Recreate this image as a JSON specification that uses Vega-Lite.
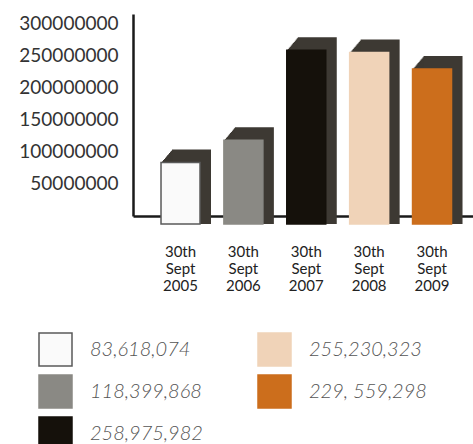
{
  "$schema": "https://vega.github.io/schema/vega-lite/v6.json",
  "autosize": {"type": "none"},
  "padding": {"left": 133, "top": 14, "right": 0, "bottom": 228},
  "width": 340,
  "height": 202,
  "background": "#ffffff",
  "config": {"view": {"stroke": null}, "font": "Lato"},
  "data": {"values": [
    {"year": "30th Sept 2005", "value": 83618074, "label": "83,618,074"},
    {"year": "30th Sept 2006", "value": 118399868, "label": "118,399,868"},
    {"year": "30th Sept 2007", "value": 258975982, "label": "258,975,982"},
    {"year": "30th Sept 2008", "value": 255230323, "label": "255,230,323"},
    {"year": "30th Sept 2009", "value": 229559298, "label": "229, 559,298"}
  ]},
  "encoding": {
    "x": {"field": "year", "type": "nominal", "sort": null,
      "scale": {"paddingInner": 0.38, "paddingOuter": 0.3935, "align": 0.566},
      "axis": {"title": null, "labelAngle": 0, "ticks": false, "domainColor": "#1a1a1a", "domainWidth": 2.5,
        "labelExpr": "split(datum.label, ' ')", "labelFont": "Lato", "labelFontSize": 15, "labelColor": "#222222",
        "labelLineHeight": 17, "labelPadding": 28, "labelBaseline": "top"}},
    "y": {"field": "value", "type": "quantitative",
      "scale": {"domain": [0, 315500000], "nice": false, "zero": false},
      "axis": {"title": null, "values": [50000000, 100000000, 150000000, 200000000, 250000000, 300000000],
        "format": "d", "ticks": false, "grid": false, "domainColor": "#1a1a1a", "domainWidth": 2.5,
        "labelFont": "Lato", "labelFontSize": 19, "labelColor": "#333333", "labelPadding": 15}},
    "y2": {"datum": -12500000}
  },
  "layer": [
    {"mark": {"type": "bar", "color": "#3d3933", "xOffset": 1, "yOffset": -1.18}},
    {"mark": {"type": "bar", "color": "#3d3933", "xOffset": 2, "yOffset": -2.36}},
    {"mark": {"type": "bar", "color": "#3d3933", "xOffset": 3, "yOffset": -3.55}},
    {"mark": {"type": "bar", "color": "#3d3933", "xOffset": 4, "yOffset": -4.73}},
    {"mark": {"type": "bar", "color": "#3d3933", "xOffset": 5, "yOffset": -5.91}},
    {"mark": {"type": "bar", "color": "#3d3933", "xOffset": 6, "yOffset": -7.09}},
    {"mark": {"type": "bar", "color": "#3d3933", "xOffset": 7, "yOffset": -8.27}},
    {"mark": {"type": "bar", "color": "#3d3933", "xOffset": 8, "yOffset": -9.45}},
    {"mark": {"type": "bar", "color": "#3d3933", "xOffset": 9, "yOffset": -10.64}},
    {"mark": {"type": "bar", "color": "#3d3933", "xOffset": 10, "yOffset": -11.82}},
    {"mark": {"type": "bar", "color": "#3d3933", "xOffset": 11, "yOffset": -13}},
    {"mark": {"type": "bar", "strokeWidth": 1.5, "fillOpacity": 1},
      "encoding": {
        "fill": {"field": "label", "type": "nominal",
          "scale": {"domain": ["83,618,074", "118,399,868", "258,975,982", "255,230,323", "229, 559,298"],
            "range": ["#fafafa", "#8a8984", "#15110b", "#f0d3b8", "#cc6e1c"]},
          "legend": {"title": null, "orient": "none", "legendX": -95, "legendY": 318, "columns": 2,
            "symbolType": "square", "symbolSize": 1089, "symbolStrokeWidth": 1.5, "symbolOpacity": 1,
            "labelFont": "Lato", "labelFontStyle": "italic", "labelFontWeight": 300, "labelFontSize": 20,
            "labelColor": "#555555", "labelOffset": 17, "rowPadding": 3, "columnPadding": 52, "labelLimit": 300}},
        "stroke": {"field": "label", "type": "nominal",
          "scale": {"domain": ["83,618,074", "118,399,868", "258,975,982", "255,230,323", "229, 559,298"],
            "range": ["#5a5a5a", "#8a8984", "#15110b", "#f0d3b8", "#cc6e1c"]}}
      }}
  ]
}
